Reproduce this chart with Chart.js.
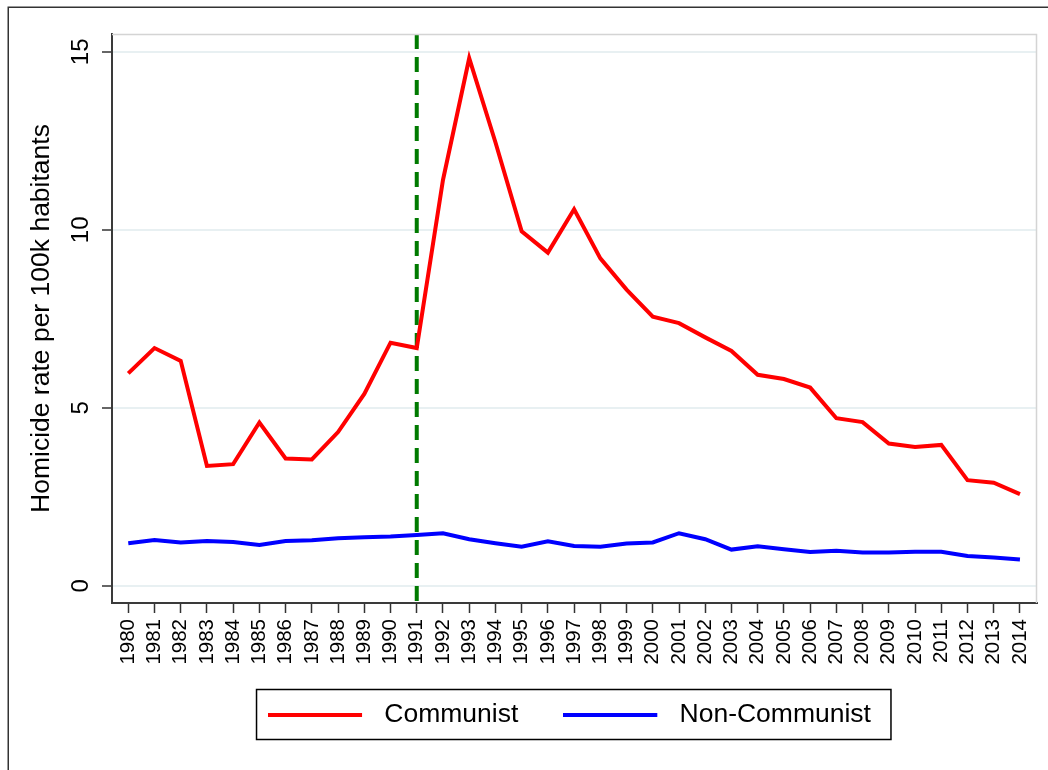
<!DOCTYPE html>
<html>
<head>
<meta charset="utf-8">
<title>Homicide rate per 100k habitants</title>
<script src="https://cdn.jsdelivr.net/npm/chart.js@4.4.0/dist/chart.umd.min.js"></script>
<style>
  html, body { margin: 0; padding: 0; background: #fff; overflow: hidden; }
  canvas { display: block; }
</style>
</head>
<body>
<canvas id="chart" width="1048" height="770"></canvas>
<script>
// Years on the horizontal axis and their tick labels
const years = [1980, 1981, 1982, 1983, 1984, 1985, 1986, 1987, 1988, 1989,
               1990, 1991, 1992, 1993, 1994, 1995, 1996, 1997, 1998, 1999,
               2000, 2001, 2002, 2003, 2004, 2005, 2006, 2007, 2008, 2009,
               2010, 2011, 2012, 2013, 2014];
const yearLabels = years.map(String);

// Homicide rate per 100k habitants
const communist = [5.97, 6.68, 6.32, 3.37, 3.42, 4.59, 3.58, 3.55, 4.32, 5.39,
                   6.83, 6.68, 11.40, 14.82, 12.46, 9.96, 9.36, 10.58, 9.20, 8.32,
                   7.56, 7.38, 6.98, 6.60, 5.93, 5.81, 5.57, 4.71, 4.60, 4.00,
                   3.90, 3.96, 2.97, 2.90, 2.58];
const nonCommunist = [1.20, 1.29, 1.22, 1.26, 1.23, 1.15, 1.26, 1.28, 1.34, 1.37,
                      1.39, 1.43, 1.48, 1.31, 1.20, 1.10, 1.25, 1.12, 1.10, 1.19,
                      1.22, 1.48, 1.31, 1.02, 1.11, 1.03, 0.95, 0.99, 0.94, 0.94,
                      0.96, 0.96, 0.84, 0.80, 0.74];

const seriesNames = ['Communist', 'Non-Communist'];
const yTicks = [0, 5, 10, 15];
const breakYear = 1991;

// axis extents
const xMin = 1979.38, xMax = 2014.65;
const yMin = -0.48, yMax = 15.5;

const FONT = 'Liberation Sans';
Chart.defaults.font.family = FONT;
Chart.defaults.color = '#000';

// Legend key: a short line followed by a blank gap before the label
function legendKey(color) {
  const c = document.createElement('canvas');
  c.width = 103; c.height = 4;
  const g = c.getContext('2d');
  g.fillStyle = color;
  g.fillRect(0, 0, 94, 4);
  return c;
}

const LEGEND_ROW_CENTER = 714.5;
const LEGEND_X_SHIFT = -5;

// Outer frame, light top/right plot border and the legend box
const framePlugin = {
  id: 'frames',
  afterLayout(chart) {
    // pull the legend row up towards the axis labels
    const lg = chart.legend;
    if (!lg) return;
    const pad = lg.options.labels.padding;
    const fs = lg.options.labels.font.size;
    const shift = (lg.top + pad + fs / 2) - LEGEND_ROW_CENTER;
    lg.top -= shift;
    lg.bottom -= shift;
    lg.left += LEGEND_X_SHIFT;
    lg.right += LEGEND_X_SHIFT;
  },
  beforeDraw(chart) {
    const ctx = chart.ctx;
    ctx.save();
    ctx.fillStyle = '#fff';
    ctx.fillRect(0, 0, chart.width, chart.height);
    ctx.strokeStyle = '#333';
    ctx.lineWidth = 1.5;
    ctx.strokeRect(8.25, 7.25, 3000, 3000);
    ctx.restore();
  },
  afterDatasetsDraw(chart) {
    const {ctx, chartArea: a} = chart;
    ctx.save();
    ctx.strokeStyle = '#d4d4d4';
    ctx.lineWidth = 1.5;
    ctx.beginPath();
    ctx.moveTo(a.left, a.top + 0.5);
    ctx.lineTo(a.right - 0.5, a.top + 0.5);
    ctx.lineTo(a.right - 0.5, a.bottom);
    ctx.stroke();
    ctx.restore();
  },
  afterDraw(chart) {
    const hb = chart.legend && chart.legend.legendHitBoxes;
    if (!hb || !hb.length) return;
    const first = hb[0], last = hb[hb.length - 1];
    const ctx = chart.ctx;
    ctx.save();
    ctx.strokeStyle = '#000';
    ctx.lineWidth = 1.5;
    const l = first.left - 11.5, r = last.left + last.width + 20;
    ctx.strokeRect(l, LEGEND_ROW_CENTER - 25, r - l, 50);
    ctx.restore();
  }
};

new Chart(document.getElementById('chart'), {
  type: 'line',
  data: {
    datasets: [
      {
        label: seriesNames[0],
        data: years.map((y, i) => ({x: y, y: communist[i]})),
        borderColor: '#ff0000',
        backgroundColor: '#ff0000',
        borderWidth: 4,
        pointRadius: 0,
        tension: 0
      },
      {
        label: seriesNames[1],
        data: years.map((y, i) => ({x: y, y: nonCommunist[i]})),
        borderColor: '#0000ff',
        backgroundColor: '#0000ff',
        borderWidth: 4,
        pointRadius: 0,
        tension: 0
      },
      {
        label: 'break',
        data: [{x: breakYear, y: yMax}, {x: breakYear, y: yMin}],
        borderColor: '#007a00',
        borderWidth: 4,
        borderDash: [15, 8],
        pointRadius: 0,
        tension: 0
      }
    ]
  },
  options: {
    responsive: false,
    animation: false,
    events: [],
    layout: { padding: { top: 34, right: 11, bottom: 21.5, left: 0 } },
    scales: {
      x: {
        type: 'linear',
        min: xMin,
        max: xMax,
        afterBuildTicks: s => { s.ticks = years.map(v => ({value: v})); },
        afterFit: s => { s.height = 64; s.paddingLeft = 0; s.paddingRight = 0; },
        ticks: {
          callback: (v, i) => yearLabels[i],
          minRotation: 90,
          maxRotation: 90,
          padding: 6,
          font: { size: 20.5 },
          color: '#000',
          autoSkip: false,
          includeBounds: false
        },
        grid: {
          display: true,
          drawOnChartArea: false,
          drawTicks: true,
          tickLength: 10,
          tickColor: '#333',
          tickWidth: 1.5
        },
        border: { display: true, color: '#3a3a3a', width: 2 }
      },
      y: {
        type: 'linear',
        min: yMin,
        max: yMax,
        afterBuildTicks: s => { s.ticks = yTicks.map(v => ({value: v})); },
        afterFit: s => { s.width = 112; s.paddingTop = 0; s.paddingBottom = 0; },
        ticks: {
          minRotation: 90,
          maxRotation: 90,
          crossAlign: 'center',
          padding: 7,
          font: { size: 24 },
          color: '#000'
        },
        grid: {
          color: '#e8f0f2',
          lineWidth: 2,
          drawTicks: true,
          tickLength: 10,
          tickColor: '#333',
          tickWidth: 1.5
        },
        border: { display: true, color: '#3a3a3a', width: 2 },
        title: {
          display: true,
          text: 'Homicide rate per 100k habitants',
          font: { size: 26.5 },
          color: '#000',
          padding: { top: 26, bottom: 0 }
        }
      }
    },
    plugins: {
      tooltip: { enabled: false },
      legend: {
        position: 'bottom',
        fullSize: false,
        labels: {
          usePointStyle: true,
          pointStyleWidth: 103,
          padding: 45,
          font: { size: 26.5 },
          color: '#000',
          generateLabels: chart => chart.data.datasets.slice(0, 2).map((ds, i) => ({
            text: ds.label,
            pointStyle: legendKey(ds.borderColor),
            fillStyle: ds.borderColor,
            strokeStyle: ds.borderColor,
            lineWidth: 0,
            hidden: false,
            datasetIndex: i,
            fontColor: '#000'
          }))
        }
      }
    }
  },
  plugins: [framePlugin]
});
</script>
</body>
</html>
